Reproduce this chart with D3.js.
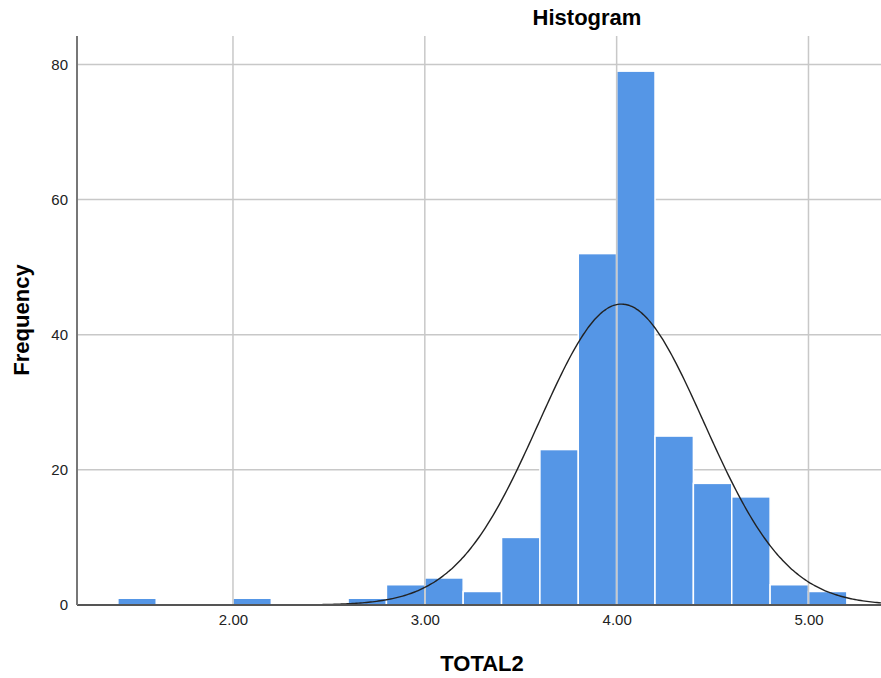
<!DOCTYPE html>
<html>
<head>
<meta charset="utf-8">
<script src="https://cdn.jsdelivr.net/npm/d3@7"></script>
<style>
  body { margin: 0; background: #fff; }
  text { font-family: "Liberation Sans", Arial, sans-serif; }
</style>
</head>
<body>
<div id="chart"></div>
<script>
// histogram bins (lower edge, upper edge) and counts
var binStart = [1.4, 2.0, 2.6, 2.8, 3.0, 3.2, 3.4, 3.6, 3.8, 4.0, 4.2, 4.4, 4.6, 4.8, 5.0];
var binWidth = 0.2;
var counts   = [1, 1, 1, 3, 4, 2, 10, 23, 52, 79, 25, 18, 16, 3, 2];

// fitted normal curve parameters
var mean = 4.025;
var stdDev = 0.43;

var xTicks = [2, 3, 4, 5];
var yTicks = [0, 20, 40, 60, 80];

window.onload = function() {
    var width = 881, height = 678;
    var left = 77, right = 881, top = 36, bottom = 605;

    var svg = d3.select("#chart")
                .append("svg")
                .attr("width", width)
                .attr("height", height);

    var x = d3.scaleLinear().domain([1.187, 5.378]).range([left, right]);
    var y = d3.scaleLinear().domain([0, 84.2]).range([bottom, top]);

    // horizontal grid lines (behind bars)
    svg.append("g")
        .selectAll("line")
        .data(yTicks.filter(d => d > 0))
        .enter()
        .append("line")
        .attr("x1", left)
        .attr("x2", right)
        .attr("y1", d => y(d))
        .attr("y2", d => y(d))
        .style("stroke", "#c8c8c8")
        .style("stroke-width", 1.5);

    // bars
    svg.append("g")
        .selectAll("rect")
        .data(counts)
        .enter()
        .append("rect")
        .attr("x", (d, i) => x(binStart[i]))
        .attr("width", (d, i) => x(binStart[i] + binWidth) - x(binStart[i]))
        .attr("y", d => y(d))
        .attr("height", d => y(0) - y(d))
        .style("fill", "#5596e6")
        .style("stroke", "#ffffff")
        .style("stroke-width", 1.5);

    // vertical grid lines
    svg.append("g")
        .selectAll("line")
        .data(xTicks)
        .enter()
        .append("line")
        .attr("x1", d => x(d))
        .attr("x2", d => x(d))
        .attr("y1", top)
        .attr("y2", bottom)
        .style("stroke", "#c8c8c8")
        .style("stroke-width", 1.5);

    // normal curve
    var total = d3.sum(counts);
    var curveX = d3.range(0, 401).map(i => 1.187 + (5.378 - 1.187) * i / 400);
    var line = d3.line()
        .x(d => x(d))
        .y(d => y(total * binWidth / (stdDev * Math.sqrt(2 * Math.PI)) *
                   Math.exp(-0.5 * Math.pow((d - mean) / stdDev, 2))))
        .curve(d3.curveBasis);
    svg.append("path")
        .datum(curveX)
        .attr("d", line)
        .style("fill", "none")
        .style("stroke", "#222")
        .style("stroke-width", 1.4);

    // axes
    var xAxis = svg.append("g")
        .attr("transform", "translate(0," + bottom + ")")
        .call(d3.axisBottom(x).tickValues(xTicks).tickSize(0).tickPadding(9)
              .tickFormat(d3.format(".2f")));
    xAxis.select(".domain").remove();
    xAxis.selectAll("text").style("font-size", "15px").style("fill", "#222");

    var yAxis = svg.append("g")
        .attr("transform", "translate(" + left + ",0)")
        .call(d3.axisLeft(y).tickValues(yTicks).tickSize(0).tickPadding(9));
    yAxis.select(".domain").remove();
    yAxis.selectAll("text").style("font-size", "15px").style("fill", "#222");

    svg.append("line")
        .attr("x1", left).attr("x2", right)
        .attr("y1", bottom).attr("y2", bottom)
        .style("stroke", "#555").style("stroke-width", 2);
    svg.append("line")
        .attr("x1", left).attr("x2", left)
        .attr("y1", top).attr("y2", bottom)
        .style("stroke", "#777").style("stroke-width", 2);

    // titles
    svg.append("text")
        .attr("x", 587)
        .attr("y", 25)
        .attr("text-anchor", "middle")
        .style("font-size", "22px")
        .style("font-weight", "bold")
        .text("Histogram");

    svg.append("text")
        .attr("x", 482)
        .attr("y", 671)
        .attr("text-anchor", "middle")
        .style("font-size", "22px")
        .style("font-weight", "bold")
        .text("TOTAL2");

    svg.append("text")
        .attr("transform", "translate(29,320) rotate(-90)")
        .attr("text-anchor", "middle")
        .style("font-size", "22px")
        .style("font-weight", "bold")
        .text("Frequency");
};
</script>
</body>
</html>
